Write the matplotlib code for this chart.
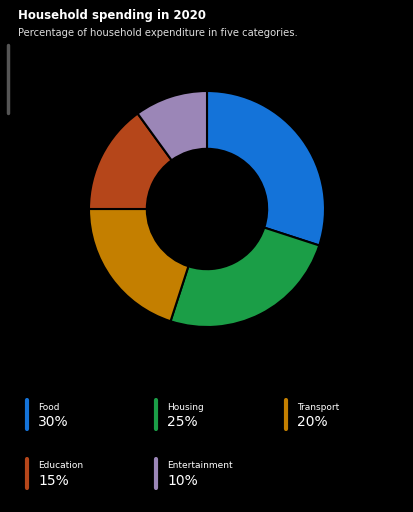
import numpy as np
import matplotlib.pyplot as plt
from matplotlib.lines import Line2D

categories = ['Food', 'Housing', 'Transport', 'Education', 'Entertainment']
shares = [30, 25, 20, 15, 10]
colors = ['#1473d9', '#1b9e47', '#c47f00', '#b5461a', '#9b86b7']

W, H = 414, 512
fig = plt.figure(figsize=(W / 100, H / 100), dpi=100, facecolor='black')
plt.rcParams['font.family'] = ['DejaVu Sans']

fig.text(18 / W, 1 - 15 / H, 'Household spending in 2020', color='white',
         fontsize=8.5, fontweight='bold', va='center', ha='left')
fig.text(18 / W, 1 - 33 / H, 'Percentage of household expenditure in five categories.',
         color='#dddddd', fontsize=7.2, va='center', ha='left')

# scrollbar-ish mark on the left
fig.add_artist(Line2D([8 / W, 8 / W], [1 - 45 / H, 1 - 113 / H], color='#555555',
                      lw=2.5, solid_capstyle='round'))

# donut
cx, cy, r = 207, 209, 118
ax = fig.add_axes([(cx - r) / W, 1 - (cy + r) / H, 2 * r / W, 2 * r / H])
ax.set_facecolor('black')
ax.pie(shares, colors=colors, startangle=90, counterclock=False,
       wedgeprops=dict(width=0.49, edgecolor='black', linewidth=1.5))
ax.set_xlim(-1, 1)
ax.set_ylim(-1, 1)
ax.set_aspect('equal')
ax.axis('off')

# legend
col_x = [27, 156, 286]
row_y = [398, 457]
for i, (cat, val, col) in enumerate(zip(categories, shares, colors)):
    x = col_x[i % 3]
    y = row_y[i // 3]
    fig.add_artist(Line2D([x / W, x / W], [1 - (y + 2) / H, 1 - (y + 31) / H],
                          color=col, lw=3, solid_capstyle='round'))
    fig.text((x + 11) / W, 1 - (y + 9) / H, cat, color='white', fontsize=6.5,
             va='center', ha='left')
    fig.text((x + 11) / W, 1 - (y + 24) / H, f'{val}%', color='white', fontsize=10,
             va='center', ha='left')

fig.savefig('out.png', dpi=100, facecolor='black')
